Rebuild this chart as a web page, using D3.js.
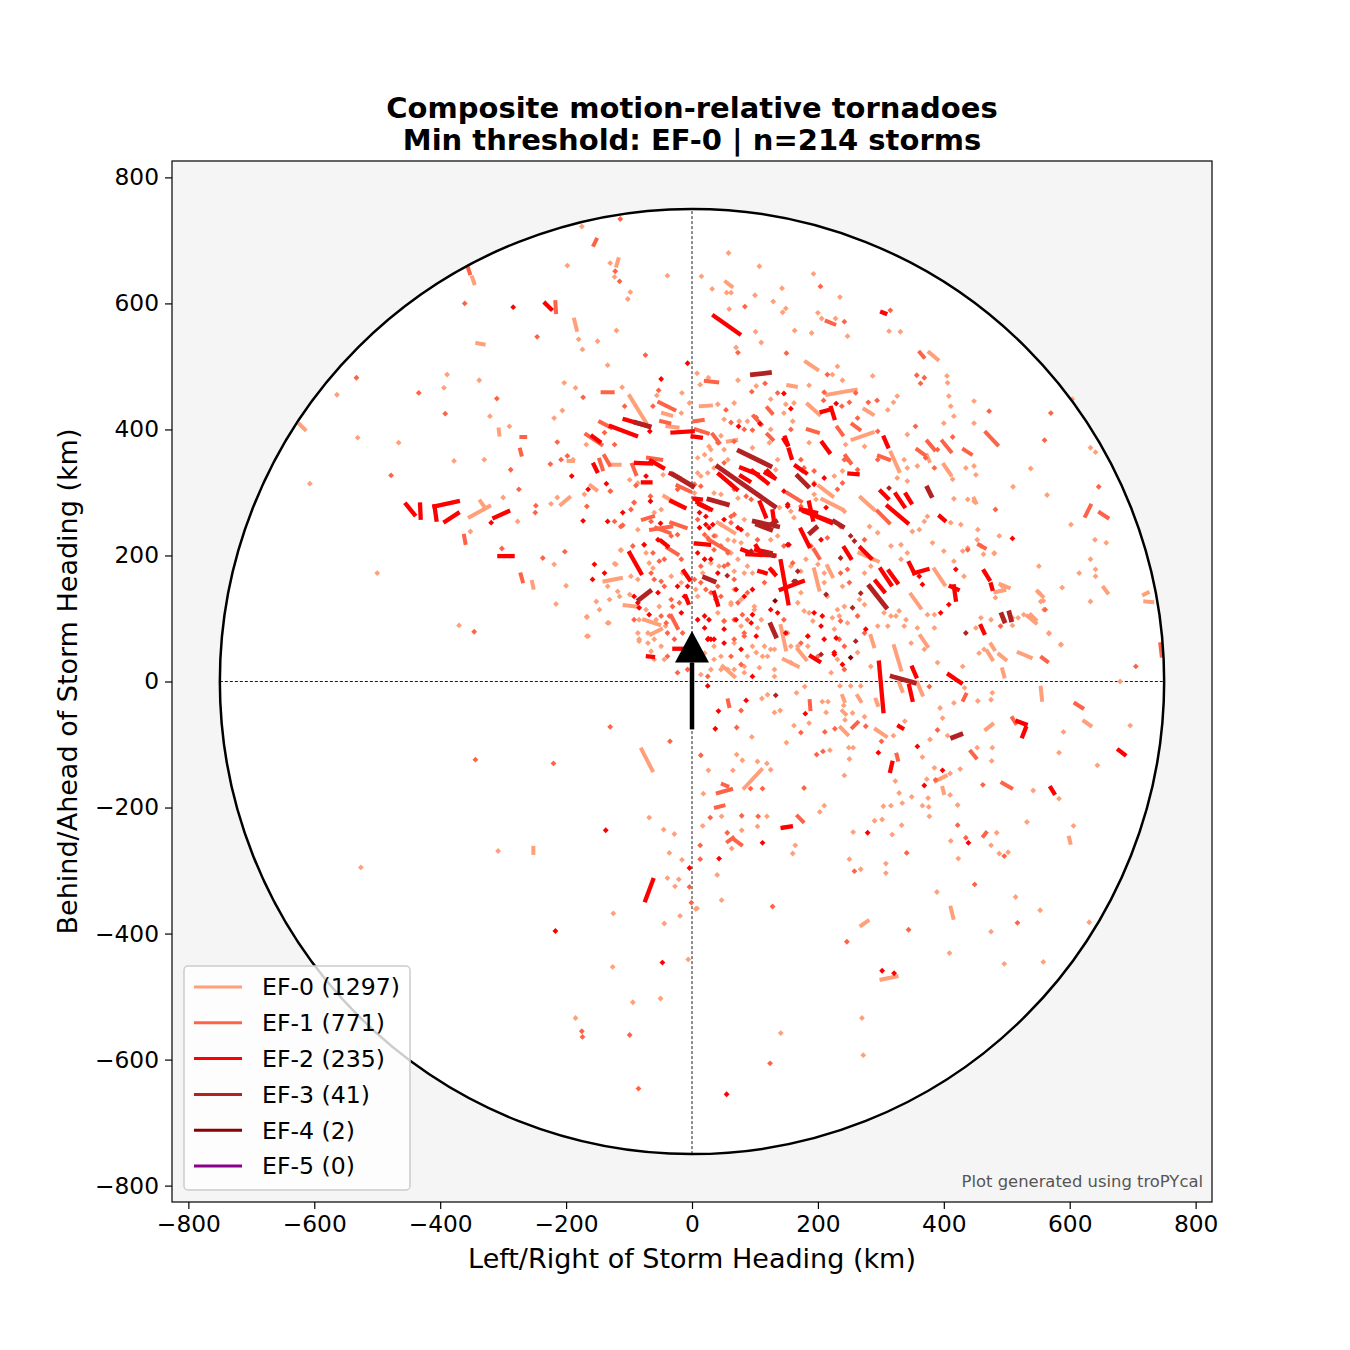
<!DOCTYPE html>
<html>
<head>
<meta charset="utf-8">
<script src="https://cdn.jsdelivr.net/npm/d3@7"></script>
<style>
  body { margin: 0; background: #ffffff; }
  svg { font-family: "DejaVu Sans", sans-serif; }
</style>
</head>
<body>
<svg id="chart" width="1350" height="1350"></svg>
<script>
// Legend labels and counts
const ratings = ["EF-0", "EF-1", "EF-2", "EF-3", "EF-4", "EF-5"];
const ratingCounts = [1297, 771, 235, 41, 2, 0];
const ratingColors = ["#FFA07A", "#FF6347", "#FF0000", "#B22222", "#8B0000", "#8B008B"];
const tickValues = [-800, -600, -400, -200, 0, 200, 400, 600, 800];

// Tracks: [x1, y1, x2, y2] in km (motion-relative)
const ef0Tracks = [
  [-120,660,-117,670],[-187,574,-183,558],[54,634,63,627],[181,507,199,495],[377,522,390,511],
  [-349,641,-346,632],[-341,537,-331,535],[-307,400,-306,392],[-623,408,-615,400],[-196,350,-189,350],
  [-353,261,-322,278],[-336,286,-329,276],[-208,281,-195,292],[-254,158,-252,149],[-99,453,-73,411],
  [-46,426,-33,422],[-39,405,-23,403],[14,437,30,438],[57,381,70,383],[-129,344,-115,344],
  [-161,311,-152,304],[-139,159,-113,164],[-107,121,-89,119],[-65,75,-49,83],[49,24,67,8],
  [153,470,165,468],[215,455,260,463],[184,440,202,424],[274,432,287,424],[255,384,287,395],
  [373,359,377,350],[400,344,411,328],[316,363,329,334],[207,289,239,273],[268,292,289,273],
  [266,204,295,191],[385,178,401,154],[348,138,363,117],[194,178,202,146],[141,88,149,51],
  [321,56,332,19],[284,72,289,56],[363,72,374,56],[448,290,451,284],[482,142,496,145],
  [490,154,503,149],[654,149,660,141],[718,138,724,141],[720,127,731,126],[549,143,557,135],
  [538,106,546,98],[533,104,546,93],[475,59,480,51],[469,48,477,35],[488,43,498,35],
  [519,46,538,38],[493,19,496,8],[554,-10,556,-29],[329,-2,334,-15],[358,-2,366,-21],
  [623,-63,633,-70],[467,-76,477,-68],[398,-169,400,-177],[387,-158,403,-150],[411,-359,415,-375],
  [269,-387,279,-380],[301,-473,325,-468],[292,-76,308,-87],[236,-73,247,-84],[83,-169,110,-140],
  [239,-23,242,-31],[239,-47,244,-52],[263,-23,268,-31],[292,-29,295,-37],[-80,-108,-63,-141],
  [-252,-264,-252,-272],[599,-248,601,-256],
  [-44,294,-17,278],[41,252,67,236],[202,310,223,294],[215,183,223,167],[168,51,181,35],
  [146,35,168,24],[-76,98,-52,90]
];
const ef1Tracks = [
  [-156,693,-152,701],[-217,602,-216,586],[214,572,226,567],[362,522,368,515],[-356,657,-353,648],
  [-271,388,-265,388],[-273,368,-271,360],[-142,459,-126,459],[-362,231,-360,220],[-272,170,-269,159],
  [22,477,40,475],[-146,412,-129,403],[-52,443,-28,431],[-49,413,-36,410],[4,413,17,415],
  [6,400,25,394],[33,392,43,379],[98,421,110,408],[120,434,127,426],[120,392,128,384],
  [-23,311,-4,302],[-70,355,-49,352],[-95,344,-89,329],[-139,358,-131,344],[-147,352,-142,337],
  [-168,392,-144,376],[-78,257,-62,262],[-33,252,-10,244],[-57,244,-36,236],[27,225,57,207],
  [184,400,200,395],[231,403,239,392],[255,408,266,400],[358,368,369,360],[374,381,385,368],
  [398,381,411,365],[432,368,443,361],[297,358,313,352],[295,270,313,252],[152,299,173,286],
  [244,358,252,347],[467,395,485,376],[625,263,633,279],[648,268,660,260],[456,217,465,212],
  [556,38,564,32],[609,-35,620,-42],[509,-58,514,-66],[443,-111,451,-121],[493,-161,507,-169],
  [463,-245,467,-240],[325,-116,327,-124],[255,-73,263,-65],[168,-214,176,-222],[41,-177,62,-171],
  [49,-163,56,-166],[38,-200,50,-197],[57,-254,65,-248],[67,-251,78,-259],[57,-30,59,-39],
  [187,-31,188,-44],[744,59,746,41],[431,-29,435,-21],
  [-65,241,-33,246],[-39,212,-23,202],[-33,104,-23,85],[194,209,202,196]
];
const ef2Tracks = [
  [35,580,75,552],[302,586,307,584],[-233,600,-224,591],[-454,281,-441,265],[-432,281,-431,260],
  [-409,278,-406,257],[-409,278,-372,286],[-392,254,-372,267],[-314,260,-292,270],[-306,199,-285,199],
  [-107,416,-70,405],[-129,405,-89,390],[-31,395,1,397],[1,389,14,387],[78,339,104,329],
  [96,334,120,315],[117,331,131,323],[43,329,71,305],[9,284,30,273],[108,284,117,262],
  [128,270,131,249],[-34,330,-20,323],[-33,286,-12,276],[4,290,14,289],[-89,347,-65,346],
  [-65,350,-46,339],[-78,316,-66,316],[-156,344,-151,334],[-158,389,-147,381],[-49,223,-39,215],
  [6,219,27,217],[80,209,94,204],[88,202,131,200],[102,209,125,204],[125,178,132,170],
  [107,175,117,172],[-99,204,-81,172],[-13,175,-4,162],[35,141,41,122],[-10,135,-6,125],
  [-70,40,-62,39],[-28,52,-15,52],[148,387,152,376],[154,368,158,355],[207,379,218,364],
  [206,428,221,432],[221,434,226,418],[250,330,263,329],[165,342,176,334],[186,284,192,257],
  [173,273,197,268],[197,262,221,252],[305,387,311,373],[300,302,311,291],[324,297,337,278],
  [340,297,348,284],[311,278,342,252],[394,262,401,256],[141,191,153,124],[141,146,176,159],
  [173,241,186,215],[242,212,252,196],[268,212,284,196],[300,178,316,154],[313,175,326,157],
  [292,159,305,143],[345,188,353,172],[353,172,374,178],[411,151,422,146],[416,151,419,130],
  [464,175,472,162],[459,88,464,77],[189,40,202,32],[297,30,304,-47],[350,22,356,8],
  [408,11,427,-2],[345,-7,350,-29],[475,154,477,147],[678,-109,687,-116],[517,-63,530,-68],
  [530,-74,525,-87],[570,-169,575,-177],[315,-142,318,-129],[329,-71,334,-74],[144,-232,157,-230],
  [-62,-315,-74,-347],
  [146,384,151,376],[120,334,128,326],[78,326,91,318],[12,281,22,276],[178,270,221,254],
  [102,215,110,202]
];
const ef3Tracks = [
  [96,487,123,490],[-89,411,-68,405],[75,366,124,342],[41,341,131,278],[27,289,56,281],
  [99,254,136,246],[-31,329,1,310],[104,249,125,241],[120,246,133,254],[117,204,129,200],
  [125,90,133,72],[20,165,35,159],[-84,130,-67,143],[168,326,184,310],[226,254,239,246],
  [374,307,380,295],[282,151,308,118],[188,236,197,244],[318,8,353,-2],[492,106,496,96],
  [504,109,507,98],[414,-89,427,-84]
];
const ef4Tracks = [];

// Short tracks that show up as single dots: [x, y] in km
const ef0Points = [
  [-175,722],[-198,660],[-130,664],[-123,642],[-98,618],[-102,607],[-39,644],[-180,543],[-120,557],[-150,540],
  [-174,527],[-134,502],[58,680],[15,643],[32,623],[55,617],[62,617],[59,591],[107,659],[100,613],
  [143,624],[129,603],[149,592],[144,586],[193,647],[235,610],[200,585],[206,576],[228,576],[247,548],
  [190,553],[163,557],[101,555],[110,538],[70,530],[231,500],[313,556],[331,555],
  [-564,455],[-389,487],[-394,466],[-338,478],[-321,421],[-290,405],[-206,430],[-219,418],[-203,474],[-185,466],
  [-531,387],[-466,379],[-607,314],[-378,350],[-330,352],[-300,292],[-277,254],[-224,282],[-214,292],[-352,238],
  [-219,186],[-200,152],[-500,172],[-216,123],[-370,89],[-167,103],[-167,72],[-132,93],
  [-111,467],[-56,454],[-16,458],[8,489],[13,471],[26,482],[73,478],[102,469],[88,413],[75,413],
  [-17,426],[-4,442],[41,440],[46,390],[-168,376],[-171,297],[-189,352],[-92,284],
  [-123,187],[-113,208],[-134,151],[-118,143],[-99,138],[-134,93],[-167,102],[-165,72],[-152,127],[-147,114],
  [57,19],[83,24],[14,11],[83,172],[-15,172],[-52,119],[-57,98],[-42,88],[-70,61],[-84,67],
  [-65,48],[-49,56],[20,45],[35,56],[110,98],[125,51],[112,40],[131,8],
  [223,487],[239,478],[287,485],[405,485],[406,474],[186,470],[326,453],[320,443],[311,431],[149,440],
  [160,413],[342,392],[400,410],[416,421],[448,445],[448,410],[342,339],[358,342],[414,321],[435,339],
  [451,328],[326,323],[342,318],[374,262],[427,249],[416,290],[448,286],[197,289],
  [181,194],[266,130],[274,172],[239,151],[274,122],[247,93],[234,104],[223,101],[305,109],[178,112],
  [168,125],[282,246],[284,183],[332,194],[369,254],[361,241],[332,217],[350,238],[382,220],[400,207],
  [416,191],[453,225],[430,207],[432,167],[385,106],[374,106],[430,24],[456,45],[385,85],[358,85],
  [324,104],[340,98],[311,88],[329,112],
  [408,453],[411,437],[538,338],[510,309],[564,296],[602,249],[633,371],[604,448],[633,194],[641,178],
  [641,167],[615,172],[633,127],[586,59],[567,77],[554,127],[509,101],[493,151],[480,204],[459,215],
  [588,149],[551,183],[559,114],[641,364],[454,241],[488,231],[463,202],[480,203],[438,212],[482,133],
  [551,141],[558,128],[527,106],[518,101],[509,89],[451,85],[475,98],[459,101],[567,76],[586,58],
  [640,225],[658,220],[680,0],
  [433,-10],[477,-18],[454,-31],[696,-70],[590,-80],[644,-133],[583,-113],[406,-86],[398,-58],[394,-42],
  [416,-34],[378,-92],[453,-105],[477,-105],[476,-126],[583,-186],[542,-173],[532,-223],[606,-229],[484,-240],
  [475,-260],[488,-273],[502,-271],[422,-196],[410,-180],[375,-185],[376,-199],[377,-214],[366,-197],[334,-193],
  [349,-183],[329,-177],[316,-197],[304,-198],[373,-155],[410,-146],[385,-137],[426,-139],[389,-334],[514,-342],
  [553,-363],[631,-382],[475,-397],[496,-448],[558,-445],[409,-431],[411,-253],[423,-281],[308,-289],[308,-304],
  [268,-298],[250,-282],[256,-239],[290,-221],[302,-219],[318,-243],[333,-228],[249,-105],[256,-105],[250,-123],
  [242,-149],[323,-158],[366,-120],[338,-63],[320,-86],[186,-66],[162,-70],[150,-97],[219,-109],[164,-260],
  [160,-273],[203,-207],[210,-197],[17,-229],[47,-214],[119,-214],[104,-230],[79,-236],[63,-265],[40,-307],
  [47,-347],[8,-360],[26,-141],[18,-178],[65,-141],[80,-125],[71,-116],[104,-127],[119,-130],[125,-140],
  [95,-88],[111,-27],[120,-21],[131,-49],[140,-46],[166,-18],[179,-8],[207,-32],[216,-32],[213,-49],
  [235,-7],[241,-38],[255,-50],[243,-61],[252,-7],[268,-7],[274,-56],[475,-29],
  [-308,-269],[-526,-295],[-125,-368],[-126,-453],[-94,-509],[-50,-503],[-185,-534],[-68,-216],[-45,-235],[-28,-242],
  [-36,-272],[-16,-283],[-39,-312],[-21,-314],[-27,-325],[6,-361],[-19,-372],[-44,-384],[-6,-441],[270,-534],
  [141,-558],[272,-593],
  [30,368],[14,326],[4,299],[46,249],[67,223],[17,172],[6,146],[67,146],[62,122],[99,114],
  [78,88],[104,85],[67,61],[96,56],[46,40],[107,22],[30,19],[131,51],[146,77],
  [274,373],[337,352],[448,342],[438,289],[411,252],[342,204],[316,215],[295,236],[337,88],[316,104],
  [295,88],[226,83],[168,56],[157,30],[231,35],[263,46],[284,24],[348,61],[369,51],[390,30],[464,51],
  [125,448],[162,442],[146,426],[125,400],[51,416],[67,442],
  [27,373],[20,360],[9,355],[30,352],[96,371],[123,379],[186,379],[244,376],[136,352],[133,336],
  [51,368],[57,352],[9,331],[25,331],[35,339],[194,315],[226,326],[239,334],
  [35,299],[46,297],[73,291],[139,276],[157,270],[162,260],[194,297],[242,270],[83,257],
  [38,231],[57,225],[88,233],[78,220],[125,225],[136,231],[30,188],[43,183],[62,204],[73,194],
  [67,175],[88,183],[96,172],
  [9,135],[62,125],[78,130],[99,119],[157,183],[173,175],[200,186],[210,172],[210,157],[215,135],
  [173,141],[186,109],[192,96],[231,114],[242,119],[41,109],[51,96],
  [88,40],[102,46],[35,35],[46,19],[67,19],[83,14],[115,56],[152,77],[157,56],[184,56],
  [221,14],[131,19],[120,40],
  [-129,302],[-86,315],[-99,320],[-46,328],[-49,273],[-60,268],[-86,241],[-113,209],[-76,217],[-73,204],
  [-68,188],[-62,180],[-121,186],[-97,167],[-86,162],[-33,167],[-17,157],[-131,130],[-115,135],[-73,114],
  [-84,98],[-86,77],[-70,77],[-60,67],[-84,64],[-60,35],[-44,35]
];
const ef1Points = [
  [-114,734],[-122,651],[-115,635],[84,595],[204,627],[242,571],[150,521],[73,522],[315,589],[-361,600],
  [-246,547],[-533,482],[-434,458],[-310,449],[-392,425],[-288,336],[-275,305],[-225,345],[-214,380],[-208,352],
  [-198,358],[-248,279],[-249,268],[-302,211],[-237,196],[-202,206],[-478,327],[-346,79],[-173,451],[-53,462],
  [-74,518],
  [116,473],[95,460],[136,458],[54,431],[62,411],[102,419],[96,399],[-107,437],[-62,437],[-123,376],
  [-139,395],[-130,302],[-167,278],[-89,311],[-66,294],[-110,248],
  [-94,215],[-62,204],[-92,98],[83,77],[73,125],[67,162],[-33,130],[-36,104],[-39,40],[88,98],
  [215,487],[357,486],[369,482],[363,473],[210,459],[209,446],[238,437],[250,443],[260,458],[280,443],
  [294,446],[295,397],[263,418],[355,405],[390,368],[414,388],[472,429],[371,355],[385,339],[247,352],
  [263,336],[231,305],
  [160,188],[146,215],[250,157],[263,104],
  [570,426],[560,383],[482,273],[646,309],[561,114],[490,88],[705,24],
  [377,-8],[390,-77],[462,-164],[435,-248],[422,-228],[496,-277],[344,-394],[449,-322],[246,-413],[517,-383],
  [341,-272],[258,-301],[301,-95],[276,-71],[211,-80],[227,-75],[173,-81],[198,-116],[208,-111],[178,-169],
  [93,-170],[112,-170],[29,-216],[79,-213],[105,-214],[56,-240],[13,-260],[13,-282],[128,-357],[14,-117],
  [71,-73],[78,-46],[387,-156],
  [-344,-124],[-220,-130],[-130,-72],[-35,-95],[-175,-555],[-174,-564],[-99,-561],[-85,-646],[-4,-326],[-1,-351],
  [124,-606],
  [51,347],[27,273],[62,262],[35,231],[104,225],[57,204],[51,183],[41,151],[38,130],[51,96],[78,27],
  [295,352],[274,225],[274,77],[200,40],[438,209],[157,400],[83,400],
  [41,379],[67,381],[242,352],[173,352],[178,339],[62,313],[194,334],[239,315],[4,313],[14,310],
  [67,305],[86,294],[94,289],[173,278],[9,257],[67,265],[62,252],[20,233],[25,228],[189,215],
  [215,228],[236,246],[14,183],[35,209],[46,215],[57,186],[4,162],[14,157],[22,146],[30,141],
  [46,135],[88,141],[115,157],[236,172],[247,178],[236,96],[146,98],[67,98],[80,106],[67,67],
  [83,72],[62,40],[173,61],[184,72],[234,67],[242,56],[242,19],[25,8],
  [-23,305],[-92,284],[-97,273],[-123,254],[-113,246],[-33,231],[-23,233],[-52,191],[-44,194],[-17,194],
  [-65,172],[-60,162],[-49,159],[-44,151],[-49,104],[-41,93],[-31,119],[-20,125],[-39,77],[-28,67],
  [-15,77],[-23,14],[-7,19],[-65,254]
];
const ef2Points = [
  [-7,505],[-284,594],[-49,480],[-319,252],[-191,326],[-67,397],[74,405],[108,409],[-73,326],[-136,314],
  [-165,305],[-110,268],[-173,255],[-134,254],[-66,286],[-50,251],
  [-155,186],[-139,172],[-158,162],[-76,217],[-84,117],[-68,106],[9,98],[20,85],[26,68],[35,67],
  [51,83],[70,98],[96,106],[102,72],[96,8],[25,-7],[125,114],[96,146],[70,146],[41,172],[-23,151],
  [229,441],[157,433],[146,457],[181,331],[194,313],[210,323],[146,302],[152,278],
  [154,217],[205,225],[194,109],[207,104],[205,88],[184,72],[210,67],[229,69],[276,83],[226,43],
  [239,27],[149,77],[361,167],[366,154],[419,178],[408,122],[395,109],
  [509,227],[439,-256],[279,-240],[296,-113],[358,-103],[369,-165],[398,-141],[112,-256],[43,-281],[37,-75],
  [42,-47],[86,-30],[180,-51],[302,-459],[321,-463],
  [-137,-236],[-217,-396],[-47,-446],[55,-655],[-4,-296],
  [12,268],[22,249],[78,241],[30,194],[83,135],[20,104],[30,67],
  [6,289],[152,281],[213,276],[22,262],[33,249],[51,257],[12,244],[27,244],[73,244],[152,217],
  [9,204],[20,194],[128,175],[136,109],[27,98],[94,93],[25,67],[51,61],[78,51],[226,46],
  [-54,225],[-54,141],[-92,135],[-86,125],[-17,109],[-12,135],[-7,151]
];
const ef3Points = [
  [313,307],[56,168],[268,140],[255,117],[213,138],[168,175],[162,159],[435,77],[252,231],[258,223],
  [260,64],[205,43],[133,-22],[165,159],[236,196],[94,207]
];
const ef4Points = [[132,128],[252,38]];

const tracksByRating = [ef0Tracks, ef1Tracks, ef2Tracks, ef3Tracks, ef4Tracks, []];
const pointsByRating = [ef0Points, ef1Points, ef2Points, ef3Points, ef4Points, []];
const trackWidths = [4, 4, 4.3, 4.8, 5, 5];

// Motion arrow (km): shaft bottom/top, head base, tip, half width
const arrowShaft = [-76, 30];
const arrowHead = { base: 30, tip: 80, half: 27 };
const radius = 750;

const svg = d3.select("#chart");
const plot = { left: 172, top: 161, right: 1212, bottom: 1202 };

const x = d3.scaleLinear().domain([-826, 826]).range([plot.left, plot.right]);
const y = d3.scaleLinear().domain([-826, 826]).range([plot.bottom, plot.top]);

const minus = d => (d < 0 ? "\u2212" + Math.abs(d) : String(d));

// Axes background
svg.append("rect")
   .attr("x", plot.left).attr("y", plot.top)
   .attr("width", plot.right - plot.left).attr("height", plot.bottom - plot.top)
   .attr("fill", "#f5f5f5");

svg.append("defs").append("clipPath").attr("id", "clip")
   .append("rect")
   .attr("x", plot.left).attr("y", plot.top)
   .attr("width", plot.right - plot.left).attr("height", plot.bottom - plot.top);

const g = svg.append("g").attr("clip-path", "url(#clip)");

// White disc inside the range ring
g.append("ellipse")
 .attr("cx", x(0)).attr("cy", y(0))
 .attr("rx", x(radius) - x(0)).attr("ry", y(0) - y(radius))
 .attr("fill", "#ffffff");

// Zero lines
g.append("line")
 .attr("x1", x(-radius)).attr("x2", x(radius))
 .attr("y1", y(0)).attr("y2", y(0))
 .attr("stroke", "#000").attr("stroke-width", 0.9).attr("stroke-dasharray", "3,2");
g.append("line")
 .attr("x1", x(0)).attr("x2", x(0))
 .attr("y1", y(-radius)).attr("y2", y(radius))
 .attr("stroke", "#000").attr("stroke-width", 0.9).attr("stroke-dasharray", "3,2");

// Tornado tracks, weakest first
tracksByRating.forEach((tracks, i) => {
    g.append("g")
     .selectAll("path")
     .data(pointsByRating[i])
     .enter()
     .append("path")
     .attr("d", d3.symbol(d3.symbolSquare, 17)())
     .attr("transform", d => `translate(${x(d[0])},${y(d[1])}) rotate(45)`)
     .attr("fill", ratingColors[i]);

    g.append("g")
     .selectAll("line")
     .data(tracks)
     .enter()
     .append("line")
     .attr("x1", d => x(d[0])).attr("y1", d => y(d[1]))
     .attr("x2", d => x(d[2])).attr("y2", d => y(d[3]))
     .attr("stroke", ratingColors[i])
     .attr("stroke-width", trackWidths[i])
     .attr("stroke-linecap", "square");
});

// Range ring
g.append("ellipse")
 .attr("cx", x(0)).attr("cy", y(0))
 .attr("rx", x(radius) - x(0)).attr("ry", y(0) - y(radius))
 .attr("fill", "none").attr("stroke", "#000").attr("stroke-width", 2.5);

// Storm motion arrow
g.append("line")
 .attr("x1", x(0)).attr("x2", x(0))
 .attr("y1", y(arrowShaft[0])).attr("y2", y(arrowShaft[1]))
 .attr("stroke", "#000").attr("stroke-width", 4.5);
g.append("path")
 .attr("d", d3.line()([
     [x(-arrowHead.half), y(arrowHead.base)],
     [x(arrowHead.half), y(arrowHead.base)],
     [x(0), y(arrowHead.tip)]
 ]) + "Z")
 .attr("fill", "#000");

// Frame
svg.append("rect")
   .attr("x", plot.left).attr("y", plot.top)
   .attr("width", plot.right - plot.left).attr("height", plot.bottom - plot.top)
   .attr("fill", "none").attr("stroke", "#000").attr("stroke-width", 1.2);

// Axes
const xAxis = svg.append("g")
   .attr("transform", `translate(0,${plot.bottom})`)
   .call(d3.axisBottom(x).tickValues(tickValues).tickFormat(minus).tickSize(7).tickPadding(6));
const yAxis = svg.append("g")
   .attr("transform", `translate(${plot.left},0)`)
   .call(d3.axisLeft(y).tickValues(tickValues).tickFormat(minus).tickSize(7).tickPadding(6));
[xAxis, yAxis].forEach(a => {
    a.select(".domain").remove();
    a.selectAll("line").attr("stroke", "#000").attr("stroke-width", 1.2);
    a.selectAll("text")
     .attr("fill", "#000")
     .style("font-family", "DejaVu Sans")
     .style("font-size", "23.3px");
});

// Axis labels
svg.append("text")
   .attr("x", (plot.left + plot.right) / 2).attr("y", 1268)
   .attr("text-anchor", "middle")
   .style("font-size", "27px")
   .text("Left/Right of Storm Heading (km)");
svg.append("text")
   .attr("transform", `translate(77,${(plot.top + plot.bottom) / 2}) rotate(-90)`)
   .attr("text-anchor", "middle")
   .style("font-size", "27px")
   .text("Behind/Ahead of Storm Heading (km)");

// Title
svg.append("text")
   .attr("x", (plot.left + plot.right) / 2).attr("y", 118)
   .attr("text-anchor", "middle")
   .style("font-size", "29px").style("font-weight", "bold")
   .text("Composite motion-relative tornadoes");
svg.append("text")
   .attr("x", (plot.left + plot.right) / 2).attr("y", 150)
   .attr("text-anchor", "middle")
   .style("font-size", "29px").style("font-weight", "bold")
   .text("Min threshold: EF-0 | n=214 storms");

// Credit
svg.append("text")
   .attr("x", 1203).attr("y", 1187)
   .attr("text-anchor", "end")
   .attr("fill", "#555")
   .style("font-size", "16.4px")
   .text("Plot generated using troPYcal");

// Legend
const legend = svg.append("g");
legend.append("rect")
      .attr("x", 184).attr("y", 966)
      .attr("width", 226).attr("height", 224)
      .attr("rx", 4)
      .attr("fill", "#ffffff").attr("fill-opacity", 0.8)
      .attr("stroke", "#cccccc").attr("stroke-width", 1.5);

const ly = d3.scalePoint().domain(ratings).range([987, 1166]);
ratings.forEach((r, i) => {
    legend.append("line")
          .attr("x1", 194).attr("x2", 242)
          .attr("y1", ly(r)).attr("y2", ly(r))
          .attr("stroke", ratingColors[i]).attr("stroke-width", 3);
    legend.append("text")
          .attr("x", 262).attr("y", ly(r))
          .attr("dy", "0.36em")
          .style("font-size", "23.6px")
          .text(`${r} (${ratingCounts[i]})`);
});
</script>
</body>
</html>
